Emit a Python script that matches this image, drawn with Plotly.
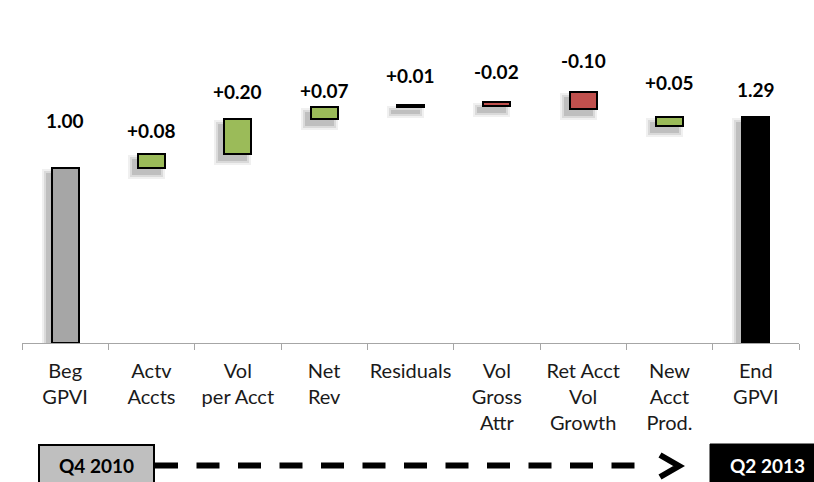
import plotly.graph_objects as go

# ---------------- data ----------------
categories = ["Beg<br>GPVI", "Actv<br>Accts", "Vol<br>per Acct", "Net<br>Rev", "Residuals",
              "Vol<br>Gross<br>Attr", "Ret Acct<br>Vol<br>Growth", "New<br>Acct<br>Prod.", "End<br>GPVI"]
values = [1.00, 0.08, 0.20, 0.07, 0.01, -0.02, -0.10, 0.05, 1.29]
kinds = ["total", "delta", "delta", "delta", "delta", "delta", "delta", "delta", "total"]
bar_bottom = [0.0, 1.00, 1.08, 1.28, 1.35, 1.355, 1.335, 1.24, 0.0]
period_start = "Q4 2010"
period_end = "Q2 2013"

# ---------------- style ----------------
W, H = 814, 482
ML, MR, MT, MB = 22, 15, 40, 139
PLOT_W = W - ML - MR
PLOT_H = H - MT - MB
PX_PER_Y = 175.0
PX_PER_X = PLOT_W / len(categories)
BAR_W = 0.313
label_gap_px = [48, 24, 28, 16, 30, 31, 31, 35, 28]

FONT = "Lato"
fill_colors = []
for k, v in zip(kinds, values):
    if k == "total":
        fill_colors.append("#a6a6a6" if len(fill_colors) == 0 else "#000000")
    else:
        fill_colors.append("#9bbb59" if v >= 0 else "#c0504d")

heights = [abs(v) for v in values]
tops = [b + h for b, h in zip(bar_bottom, heights)]

fig = go.Figure()

# soft drop shadows (derived from the bars)
for e, op in [(5, 0.06), (3, 0.09), (1, 0.12)]:
    dx, dy = 5, 6
    fig.add_trace(go.Bar(
        x=categories,
        y=[h + 2 * e / PX_PER_Y for h in heights],
        base=[b - dy / PX_PER_Y - e / PX_PER_Y for b in bar_bottom],
        width=BAR_W + 2 * e / PX_PER_X,
        offset=-BAR_W / 2 - dx / PX_PER_X - e / PX_PER_X,
        marker=dict(color=f"rgba(0,0,0,{op})", line=dict(width=0)),
        hoverinfo="skip", showlegend=False,
    ))

fig.add_trace(go.Bar(
    x=categories, y=heights, base=bar_bottom, width=BAR_W,
    marker=dict(color=fill_colors, line=dict(color="#000000", width=2)),
    showlegend=False,
))

# value labels
for c, v, k, t, g in zip(categories, values, kinds, tops, label_gap_px):
    txt = f"{v:.2f}" if k == "total" else f"{v:+.2f}"
    fig.add_annotation(x=c, y=t, yshift=g, text=f"<b>{txt}</b>", showarrow=False,
                       xanchor="center", yanchor="middle",
                       font=dict(family=FONT, size=19, color="#000000"))


def px_x(p):
    return (p - ML) / PLOT_W


def px_y(p):
    return (H - MB - p) / PLOT_H


# bottom timeline
shapes = []
shapes.append(dict(type="rect", xref="paper", yref="paper",
                   x0=px_x(39), x1=px_x(154), y0=px_y(486), y1=px_y(445),
                   fillcolor="#bfbfbf", line=dict(color="#000000", width=2), layer="above"))
shapes.append(dict(type="rect", xref="paper", yref="paper",
                   x0=px_x(710), x1=px_x(818), y0=px_y(486), y1=px_y(444),
                   fillcolor="#000000", line=dict(color="#000000", width=1), layer="above"))
shapes.append(dict(type="line", xref="paper", yref="paper",
                   x0=px_x(155), x1=px_x(640), y0=px_y(465.5), y1=px_y(465.5),
                   line=dict(color="#000000", width=6, dash="23px,18.5px"), layer="above"))
shapes.append(dict(type="path", xref="paper", yref="paper",
                   path=f"M {px_x(660)},{px_y(455)} L {px_x(679)},{px_y(466)} L {px_x(660)},{px_y(477)}",
                   line=dict(color="#000000", width=6), layer="above"))

fig.add_annotation(xref="paper", yref="paper", x=px_x(96.5), y=px_y(465),
                   text=f"<b>{period_start}</b>", showarrow=False, xanchor="center", yanchor="middle",
                   font=dict(family=FONT, size=19, color="#000000"))
fig.add_annotation(xref="paper", yref="paper", x=px_x(767), y=px_y(465),
                   text=f"<b>{period_end}</b>", showarrow=False, xanchor="center", yanchor="middle",
                   font=dict(family=FONT, size=19, color="#ffffff"))

fig.update_layout(
    width=W, height=H,
    margin=dict(l=ML, r=MR, t=MT, b=MB, autoexpand=False),
    paper_bgcolor="#ffffff", plot_bgcolor="#ffffff",
    barmode="overlay", bargap=0,
    shapes=shapes,
    font=dict(family=FONT),
)
fig.update_xaxes(
    type="category", tickson="boundaries", ticks="outside", ticklen=6, tickwidth=1.3,
    tickcolor="#a6a6a6", showline=True, linecolor="#a6a6a6", linewidth=1.3,
    showgrid=False, tickfont=dict(family=FONT, size=20, color="#1a1a1a"),
    tickangle=0, automargin=False,
    ticklabelstandoff=10, range=[-0.5, 8.5], fixedrange=True,
)
fig.update_yaxes(
    range=[0, PLOT_H / PX_PER_Y], visible=False, showgrid=False, zeroline=False, fixedrange=True,
)

fig.write_html("out.html", config={"displayModeBar": False},
               post_script="document.body.style.margin='0';document.body.style.overflow='hidden';")
